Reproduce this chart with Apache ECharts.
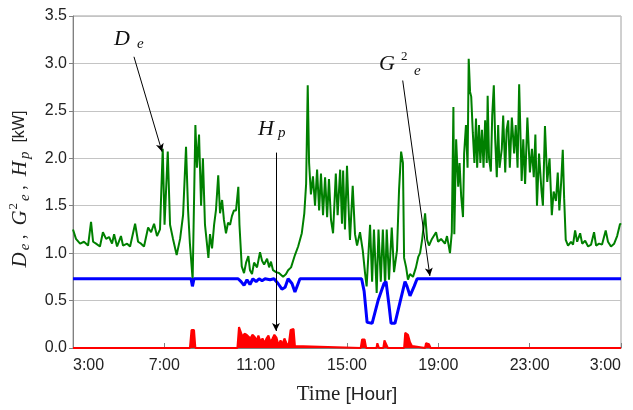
<!DOCTYPE html>
<html lang="en">
<head>
    <meta charset="UTF-8" />
    <title>De, G2e, Hp</title>
    <script src="https://cdn.jsdelivr.net/npm/echarts@6/dist/echarts.min.js"></script>
    <style>
        html, body { margin: 0; padding: 0; background: #fff; }
        #main { width: 633px; height: 410px; }
    </style>
</head>
<body>
    <div id="main"></div>
    <script>
        // time axis: hours from 3:00 to 3:00 next day (27)
        const xTicks = [3, 7, 11, 15, 19, 23, 27];

        // D_e (green)
        const deHours = [3.00, 3.13, 3.31, 3.48, 3.66, 3.79, 3.88, 4.01, 4.18, 4.31, 4.45, 4.58, 4.71, 4.80, 4.93,
            5.10, 5.19, 5.37, 5.50, 5.72, 5.85, 5.98, 6.11, 6.29, 6.42, 6.55, 6.68, 6.81, 6.93, 7.01, 7.15,
            7.25, 7.38, 7.54, 7.69, 7.82, 7.95, 8.04, 8.12, 8.24, 8.36, 8.43, 8.52, 8.61, 8.69, 8.78, 8.93,
            9.00, 9.09, 9.18, 9.26, 9.36, 9.44, 9.53, 9.61, 9.70, 9.79, 9.88, 9.96, 10.05, 10.14, 10.24, 10.29,
            10.39, 10.49, 10.58, 10.68, 10.75, 10.84, 10.93, 11.06, 11.19, 11.28, 11.37, 11.50, 11.59, 11.67,
            11.76, 11.89, 12.02, 12.20, 12.33, 12.42, 12.55, 12.72, 12.86, 13.02, 13.13, 13.21, 13.28, 13.34,
            13.42, 13.51, 13.60, 13.69, 13.78, 13.86, 13.95, 14.04, 14.13, 14.21, 14.30, 14.39, 14.51, 14.59,
            14.70, 14.78, 14.83, 14.91, 15.00, 15.09, 15.13, 15.25, 15.35, 15.44, 15.57, 15.69, 15.79, 15.86,
            16.01, 16.10, 16.18, 16.30, 16.38, 16.48, 16.57, 16.67, 16.74, 16.84, 16.96, 17.06, 17.19, 17.28,
            17.37, 17.45, 17.50, 17.59, 17.67, 17.76, 17.89, 18.02, 18.12, 18.20, 18.29, 18.42, 18.51, 18.59,
            18.72, 18.90, 18.99, 19.12, 19.29, 19.38, 19.51, 19.59, 19.66, 19.70, 19.78, 19.87, 19.93, 20.00,
            20.08, 20.13, 20.21, 20.28, 20.33, 20.39, 20.44, 20.51, 20.58, 20.65, 20.70, 20.78, 20.84, 20.91,
            20.98, 21.05, 21.12, 21.16, 21.22, 21.30, 21.36, 21.43, 21.49, 21.56, 21.62, 21.68, 21.78, 21.84,
            21.93, 21.99, 22.06, 22.13, 22.22, 22.32, 22.39, 22.47, 22.54, 22.65, 22.72, 22.80, 22.90, 23.01,
            23.10, 23.18, 23.25, 23.32, 23.41, 23.52, 23.58, 23.67, 23.77, 23.87, 23.97, 24.05, 24.15, 24.23,
            24.30, 24.38, 24.45, 24.51, 24.58, 24.68, 24.81, 24.90, 24.99, 25.08, 25.21,
            25.30, 25.43, 25.56, 25.69, 25.82, 25.91, 26.04, 26.17, 26.33, 26.43, 26.56, 26.70, 26.83, 26.96, 27.00];
        const deValues = [1.25, 1.15, 1.10, 1.12, 1.08, 1.33, 1.12, 1.10, 1.07, 1.22, 1.15, 1.17, 1.10, 1.20, 1.07,
            1.18, 1.08, 1.10, 1.07, 1.31, 1.12, 1.10, 1.07, 1.27, 1.22, 1.31, 1.18, 1.25, 2.10, 1.30, 2.07,
            1.30, 1.15, 0.98, 1.15, 1.40, 2.12, 1.45, 1.10, 0.72, 2.35, 1.90, 2.25, 1.50, 2.00, 1.30, 0.95,
            1.20, 1.05, 1.30, 1.45, 1.82, 1.42, 1.56, 1.35, 1.21, 1.32, 1.30, 1.39, 1.45, 1.45, 1.70, 1.30,
            0.86, 0.79, 0.90, 0.97, 0.82, 0.78, 0.90, 0.85, 1.01, 0.92, 0.88, 0.94, 0.85, 0.91,
            0.82, 0.80, 0.79, 0.75, 0.78, 0.82, 0.85, 0.98, 1.07, 1.21, 1.42, 1.73, 2.77, 1.95,
            1.62, 1.81, 1.50, 1.88, 1.45, 1.84, 1.40, 1.80, 1.38, 1.78, 1.35, 1.21, 1.84, 1.40,
            1.88, 1.31, 1.87, 1.25, 1.92, 1.35, 1.14, 1.71, 1.20, 1.08, 1.22, 1.03, 0.79, 0.65,
            1.30, 0.70, 1.25, 0.58, 1.25, 0.70, 1.25, 0.65, 1.25, 0.72, 1.27, 0.80, 1.03, 1.67,
            2.07, 1.95, 0.95, 0.85, 0.72, 0.78, 0.75, 0.85, 0.96, 1.00, 1.14, 1.42, 1.14, 1.08,
            1.15, 1.22, 1.12, 1.15, 1.10, 1.18, 1.00, 1.22, 2.54, 1.20, 2.20, 1.70, 1.95, 1.60,
            1.38, 2.05, 2.35, 1.90, 3.05, 2.70, 2.65, 2.27, 1.95, 2.42, 1.90, 2.35, 1.95, 2.30,
            1.90, 2.40, 1.95, 2.66, 2.00, 1.86, 2.45, 2.77, 2.20, 1.80, 2.35, 1.90, 2.10, 2.45,
            1.85, 2.30, 2.40, 1.90, 2.43, 2.05, 2.35, 1.90, 2.78, 1.76, 2.20, 1.73, 2.43, 1.85,
            2.10, 1.80, 2.25, 1.50, 2.05, 1.65, 1.50, 2.34, 1.75, 2.00, 1.40, 1.65, 1.55, 1.85,
            1.45, 1.75, 2.09, 1.58, 1.14, 1.08, 1.12, 1.09, 1.24, 1.12, 1.21,
            1.10, 1.13, 1.07, 1.09, 1.22, 1.08, 1.10, 1.09, 1.24, 1.12, 1.07, 1.10, 1.18, 1.31, 1.30];

        // G^2_e (blue)
        const geHours = [3.00, 8.17, 8.23, 8.30, 10.23, 10.36, 10.49, 10.62, 10.75, 10.88, 11.02, 11.15, 11.28,
            11.41, 11.63, 11.80, 11.98, 12.15, 12.29, 12.42, 12.59, 12.72, 12.86, 12.94, 15.64, 15.75,
            15.88, 16.10, 16.36, 16.62, 16.71, 16.84, 16.93, 17.10, 17.32, 17.54, 17.63, 17.76, 17.94, 18.07, 27.00];
        const geValues = [0.73, 0.73, 0.65, 0.73, 0.73, 0.70, 0.66, 0.72, 0.67, 0.73, 0.70, 0.73, 0.71,
            0.73, 0.72, 0.73, 0.68, 0.62, 0.64, 0.73, 0.68, 0.59, 0.68, 0.73, 0.73, 0.60,
            0.27, 0.26, 0.50, 0.68, 0.70, 0.45, 0.26, 0.26, 0.48, 0.70, 0.65, 0.55, 0.65, 0.73, 0.73];

        // H_p (red)
        const hpHours = [3.00, 8.12, 8.19, 8.30, 8.36, 10.20, 10.27, 10.33, 10.42, 10.51, 10.60, 10.68, 10.77,
            10.86, 10.95, 11.04, 11.12, 11.21, 11.30, 11.39, 11.47, 11.56, 11.65, 11.74, 11.82, 11.91, 12.00,
            12.09, 12.17, 12.26, 12.35, 12.44, 12.53, 12.66, 12.72, 12.75, 15.60, 15.66, 15.77, 15.84, 16.29,
            16.33, 16.40, 16.59, 16.64, 16.72, 16.79, 17.50, 17.55, 17.67, 17.76, 17.85, 17.89, 18.42, 18.46,
            18.59, 18.66, 27.00];
        const hpValues = [0, 0, 0.19, 0.19, 0, 0, 0.22, 0.20, 0.12, 0.15, 0.14, 0.15, 0.10,
            0.14, 0.12, 0.08, 0.13, 0.07, 0.10, 0.05, 0.10, 0.13, 0.06, 0.10, 0.14, 0.11, 0.03,
            0.08, 0.04, 0.10, 0.05, 0.02, 0.19, 0.20, 0.02, 0, 0, 0.09, 0.09, 0, 0,
            0.05, 0, 0, 0.08, 0.07, 0, 0, 0.16, 0.14, 0.06, 0.02, 0, 0, 0.05,
            0.04, 0, 0];

        // annotation arrows [fromHour, fromKw, toHour, toKw]
        const arrowDe = [5.67, 3.07, 6.90, 2.07];
        const arrowHp = [11.89, 2.06, 11.89, 0.18];
        const arrowGe = [17.44, 2.82, 18.63, 0.76];

        function pairs(xs, ys) {
            return xs.map((x, i) => [x, ys[i]]);
        }
        function arrow(a) {
            return [{ coord: [a[0], a[1]] }, { coord: [a[2], a[3]] }];
        }

        var chart = echarts.init(document.getElementById('main'), null, { renderer: 'canvas' });

        const serif = "'Liberation Serif', 'DejaVu Serif', serif";
        const sans = "'Liberation Sans', Arial, sans-serif";

        var option = {
            animation: false,
            backgroundColor: '#fff',
            grid: {
                left: 73, right: 12, top: 16, bottom: 62,
                show: true, borderColor: '#a0a0a0', borderWidth: 1
            },
            xAxis: {
                type: 'value',
                min: 3, max: 27, interval: 4,
                name: '{t|Time }{h|[Hour]}',
                nameLocation: 'middle',
                nameGap: 36,
                nameTextStyle: {
                    rich: {
                        t: { fontFamily: serif, fontSize: 21, color: '#222' },
                        h: { fontFamily: sans, fontSize: 19, color: '#222' }
                    }
                },
                axisLine: { lineStyle: { color: '#808080' } },
                axisTick: { inside: true, length: 5, lineStyle: { color: '#808080' } },
                splitLine: { show: false },
                axisLabel: {
                    fontFamily: sans, fontSize: 16, color: '#222', margin: 10,
                    alignMinLabel: 'left', alignMaxLabel: 'right',
                    formatter: v => (v % 24) + ':00'
                }
            },
            yAxis: {
                type: 'value',
                min: 0, max: 3.5, interval: 0.5,
                axisLine: { show: true, lineStyle: { color: '#808080' } },
                axisTick: { show: true, length: 4, lineStyle: { color: '#808080' } },
                splitLine: { lineStyle: { color: '#c4c4c4', width: 1 } },
                axisLabel: {
                    fontFamily: sans, fontSize: 16, color: '#222', margin: 6,
                    formatter: v => v.toFixed(1)
                }
            },
            series: [
                {
                    name: 'De', type: 'line', data: pairs(deHours, deValues),
                    showSymbol: false, z: 2,
                    lineStyle: { color: '#008000', width: 2 }
                },
                {
                    name: 'G2e', type: 'line', data: pairs(geHours, geValues),
                    showSymbol: false, z: 3,
                    lineStyle: { color: '#0000ff', width: 3 }
                },
                {
                    name: 'Hp', type: 'line', data: pairs(hpHours, hpValues),
                    showSymbol: false, z: 4,
                    lineStyle: { color: '#ff0000', width: 2 },
                    areaStyle: { color: '#ff0000', opacity: 1 },
                    markLine: {
                        silent: true,
                        symbol: ['none', 'arrow'],
                        symbolSize: [6, 8],
                        label: { show: false },
                        lineStyle: { color: '#000', width: 1, type: 'solid' },
                        emphasis: { disabled: true },
                        data: [arrow(arrowDe), arrow(arrowHp), arrow(arrowGe)]
                    }
                }
            ],
            graphic: [
                {
                    type: 'text', x: 20, y: 189, rotation: Math.PI / 2, z: 10,
                    style: {
                        text: '{i|D}{sb|e}{n| ,  }{i|G}{sp|2}{sb|e}{n| ,  }{i|H}{sb|p}{n|  }{u|[kW]}',
                        align: 'center', verticalAlign: 'middle',
                        rich: {
                            i: { fontFamily: serif, fontStyle: 'italic', fontSize: 21, lineHeight: 26, verticalAlign: 'middle', fill: '#222' },
                            sb: { fontFamily: serif, fontStyle: 'italic', fontSize: 15, lineHeight: 14, verticalAlign: 'bottom', fill: '#222', padding: [0, 0, 0, 2] },
                            sp: { fontFamily: serif, fontSize: 13, lineHeight: 12, verticalAlign: 'top', fill: '#222', padding: [0, 0, 0, 1] },
                            n: { fontFamily: serif, fontSize: 18, lineHeight: 26, verticalAlign: 'middle', fill: '#222' },
                            u: { fontFamily: sans, fontSize: 16, lineHeight: 26, verticalAlign: 'middle', fill: '#222' }
                        }
                    }
                },
                { type: 'text', x: 114, y: 28, z: 10, style: { text: 'D', font: 'italic 22px ' + serif, fill: '#111' } },
                { type: 'text', x: 137, y: 37, z: 10, style: { text: 'e', font: 'italic 15px ' + serif, fill: '#111' } },
                { type: 'text', x: 258, y: 118, z: 10, style: { text: 'H', font: 'italic 22px ' + serif, fill: '#111' } },
                { type: 'text', x: 278, y: 126, z: 10, style: { text: 'p', font: 'italic 15px ' + serif, fill: '#111' } },
                { type: 'text', x: 379, y: 53, z: 10, style: { text: 'G', font: 'italic 22px ' + serif, fill: '#111' } },
                { type: 'text', x: 401, y: 50, z: 10, style: { text: '2', font: '13px ' + serif, fill: '#111' } },
                { type: 'text', x: 414, y: 64, z: 10, style: { text: 'e', font: 'italic 15px ' + serif, fill: '#111' } }
            ]
        };

        chart.setOption(option);
    </script>
</body>
</html>
